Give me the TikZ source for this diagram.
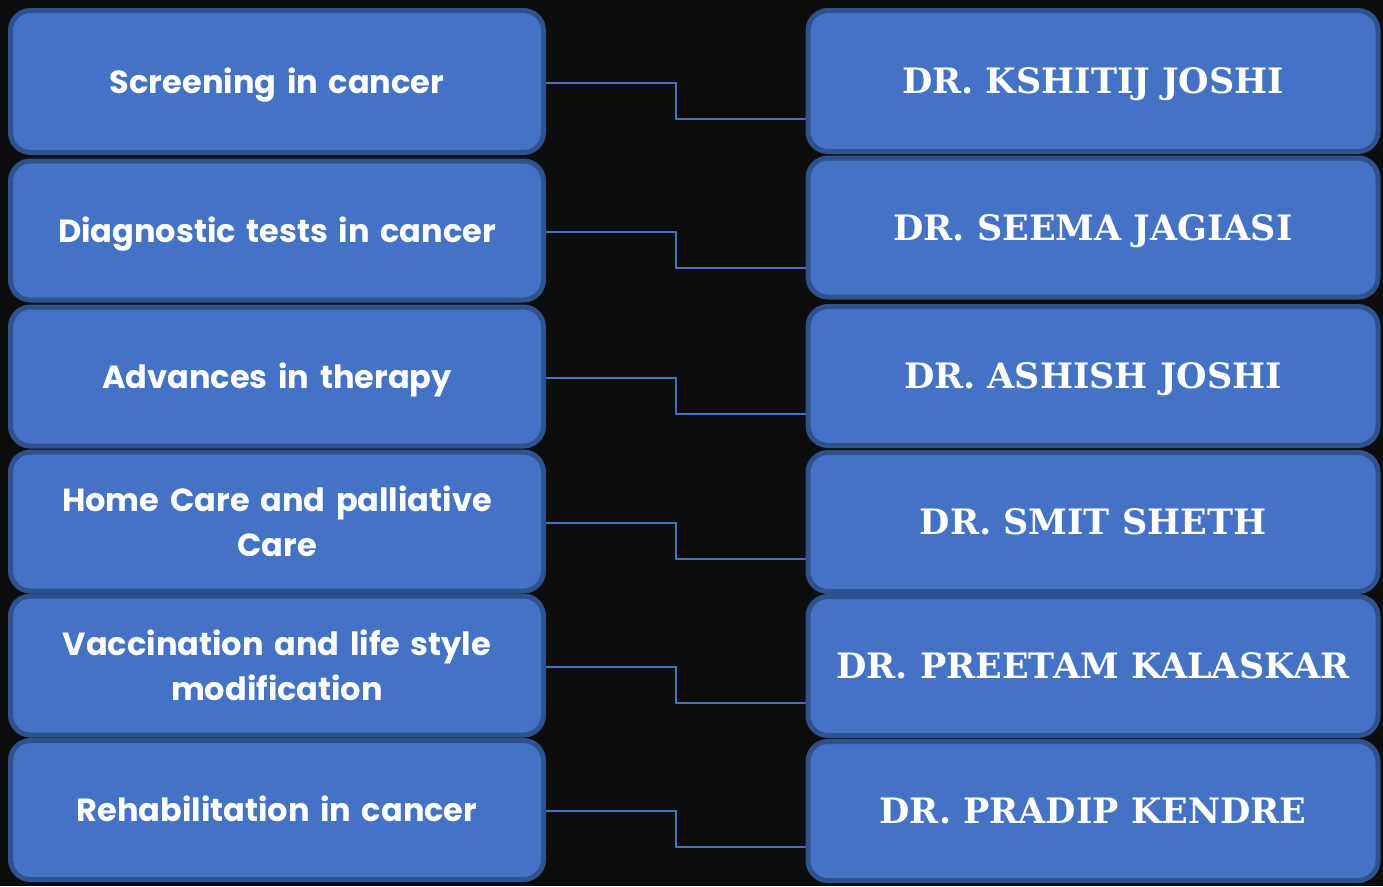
\documentclass[tikz,border=0pt]{standalone}
\usepackage{fontspec}
\setmainfont{Poppins}
\newfontfamily\namefont{DejaVu Serif}
\usepackage{tikz}
\usetikzlibrary{calc, backgrounds}
\definecolor{bgdark}{HTML}{0D0D0D}
\definecolor{boxblue}{HTML}{4472C4}
\definecolor{edgeblue}{HTML}{2F528F}

\begin{document}
\begin{tikzpicture}[x=1pt, y=-1pt,
    topic/.style={rectangle, draw=edgeblue, fill=boxblue, rounded corners=20pt, line width=5pt, minimum width=533pt, minimum height=139pt, align=center, text=white, font=\fontsize{32}{45}\selectfont\bfseries, text width=510pt},
    oneline/.style={text height=23pt, text depth=0pt},
    speaker/.style={rectangle, draw=edgeblue, fill=boxblue, rounded corners=20pt, line width=5pt, minimum width=570pt, minimum height=139pt, align=center, text=white, font=\namefont\fontsize{35}{40}\selectfont\bfseries, text height=25pt, text depth=0pt},
    link/.style={draw=boxblue, line width=2pt}
]
    \useasboundingbox (0,0) rectangle (1383,886);

    % --- Topics ---
    \node[topic, oneline, minimum height=142pt] (t1) at (277,81.5) {Screening in cancer};
    \node[topic, oneline] (t2) at (277,230.5) {Diagnostic tests in cancer};
    \node[topic, oneline] (t3) at (277,376.5) {Advances in therapy};
    \node[topic] (t4) at (277,521.5) {Home Care and palliative\\Care};
    \node[topic] (t5) at (277,665.5) {Vaccination and life style\\modification};
    \node[topic, oneline] (t6) at (277,810) {Rehabilitation in cancer};

    % --- Speakers ---
    \node[speaker, minimum height=141pt] (s1) at (1093,81) {DR. KSHITIJ JOSHI};
    \node[speaker] (s2) at (1093,227.5) {DR. SEEMA JAGIASI};
    \node[speaker] (s3) at (1093,376) {DR. ASHISH JOSHI};
    \node[speaker] (s4) at (1093,522) {DR. SMIT SHETH};
    \node[speaker] (s5) at (1093,666) {DR. PREETAM KALASKAR};
    \node[speaker] (s6) at (1093,811) {DR. PRADIP KENDRE};

    % Connections
    \begin{scope}[on background layer]
        \fill[bgdark] (0,0) rectangle (1383,886);
        \foreach \i in {1,...,6}{
            \coordinate (e\i) at ($(s\i.west |- t\i.east)+(0,37)$);
            \draw[link] ($(t\i.east)+(0,1)$) -| (676,0 |- e\i) -- (e\i);
        }
    \end{scope}
\end{tikzpicture}
\end{document}
